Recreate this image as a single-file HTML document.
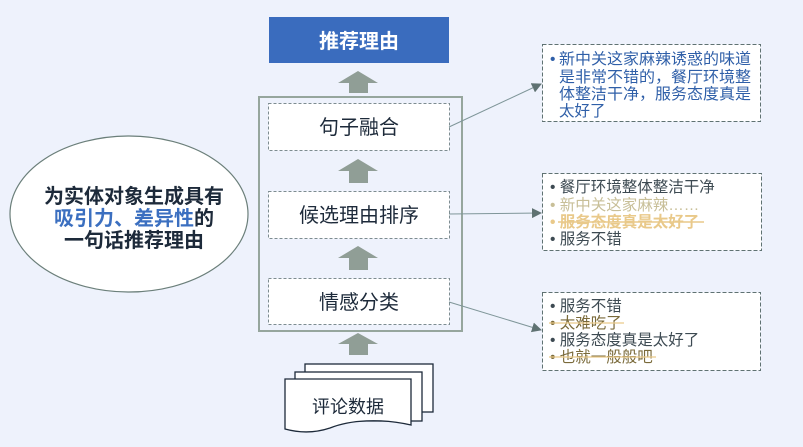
<!DOCTYPE html>
<html><head><meta charset="utf-8"><style>
html,body{margin:0;padding:0;background:#eef2fc;}
svg{display:block;}
text{font-family:"Liberation Sans","Noto Sans CJK SC",sans-serif;}
</style></head><body>
<svg width="803" height="447" viewBox="0 0 803 447" xmlns="http://www.w3.org/2000/svg">
<rect width="803" height="447" fill="#eef2fc"/>
<defs>
<marker id="ah" markerWidth="10" markerHeight="10" refX="9" refY="5" orient="auto" markerUnits="userSpaceOnUse">
<path d="M0,0 L10,5 L0,10 Z" fill="#5f7272"/></marker>
</defs>
<ellipse cx="129" cy="214" rx="119" ry="78" fill="#fff" stroke="#6b7f7a" stroke-width="1.2"/>
<g font-size="20" font-weight="bold" text-anchor="middle" fill="#1d2a3a">
<text x="134" y="203">为实体对象生成具有</text>
<text x="134" y="225"><tspan fill="#3b6fc0">吸引力、差异性</tspan>的</text>
<text x="134" y="247">一句话推荐理由</text>
</g>
<rect x="269" y="17" width="180" height="46" fill="#3a6cbe"/>
<text x="359" y="48" font-size="20" font-weight="bold" fill="#fff" text-anchor="middle">推荐理由</text>
<rect x="259" y="97" width="203" height="234" fill="#eef2fc" stroke="#96a69d" stroke-width="2"/>
<g fill="#fff" stroke="#7d8c90" stroke-dasharray="3,2" stroke-width="1">
<rect x="268.5" y="103.5" width="181" height="47"/>
<rect x="268.5" y="191.5" width="181" height="47"/>
<rect x="268.5" y="278.5" width="181" height="46"/>
</g>
<g fill="#909e96">
<path d="M338,83 L358,71 L378,83 L368,83 L368,93 L349,93 L349,83 Z"/>
<path d="M338,171 L358,159 L378,171 L368,171 L368,183 L349,183 L349,171 Z"/>
<path d="M338,258 L358,246 L378,258 L368,258 L368,270 L349,270 L349,258 Z"/>
<path d="M338,344 L358,333 L378,344 L368,344 L368,355 L349,355 L349,344 Z"/>
</g>
<g font-size="20" fill="#1d2a3a" text-anchor="middle">
<text x="359" y="134">句子融合</text>
<text x="359" y="222">候选理由排序</text>
<text x="359" y="309">情感分类</text>
</g>
<g stroke="#7f9699" stroke-width="1" fill="none" marker-end="url(#ah)">
<line x1="449" y1="127" x2="541" y2="84"/>
<line x1="449" y1="214" x2="541" y2="213"/>
<line x1="449" y1="302" x2="541" y2="330"/>
</g>
<g fill="#fff" stroke="#5f7272" stroke-dasharray="4,2" stroke-width="1">
<rect x="542.5" y="44.5" width="218" height="77"/>
<rect x="542.5" y="173.5" width="219" height="77"/>
<rect x="542.5" y="292.5" width="218" height="78"/>
</g>
<g font-size="15.5">
<g fill="#2f5fa8">
<text x="550" y="64">•</text>
<text x="559" y="64" textLength="192" lengthAdjust="spacingAndGlyphs">新中关这家麻辣诱惑的味道</text>
<text x="559" y="82" textLength="192" lengthAdjust="spacingAndGlyphs">是非常不错的，餐厅环境整</text>
<text x="559" y="99" textLength="192" lengthAdjust="spacingAndGlyphs">体整洁干净，服务态度真是</text>
<text x="559" y="116">太好了</text>
</g>
<text x="550" y="192" fill="#3d4a52">• 餐厅环境整体整洁干净</text>
<text x="550" y="210" fill="#c8bf98">• 新中关这家麻辣……</text>
<text x="550" y="227" fill="#e9c98a" font-weight="bold">• 服务态度真是太好了</text>
<line x1="558" y1="222" x2="704" y2="222" stroke="#e9c98a" stroke-width="1.5"/>
<text x="550" y="244" fill="#3d4a52">• 服务不错</text>
<text x="550" y="311" fill="#3d4a52">• 服务不错</text>
<text x="550" y="328" fill="#7a6a3a">• 太难吃了</text>
<line x1="549" y1="323" x2="624" y2="323" stroke="#e9c98a" stroke-width="1.2"/>
<text x="550" y="345" fill="#3d4a52">• 服务态度真是太好了</text>
<text x="550" y="362" fill="#7a6a3a">• 也就一般般吧</text>
<line x1="549" y1="357" x2="656" y2="357" stroke="#e9c98a" stroke-width="1.2"/>
</g>
<g fill="#fff" stroke="#1d2a3a" stroke-width="1.3">
<rect x="305" y="364" width="128" height="48"/>
<rect x="295" y="372" width="127" height="49"/>
<path d="M285,379 L411,379 L411,425 C380,418 350,420 330,428 C312,434 296,432 285,429 Z"/>
</g>
<text x="348" y="413" font-size="18" fill="#1d2a3a" text-anchor="middle">评论数据</text>
</svg>
</body></html>
